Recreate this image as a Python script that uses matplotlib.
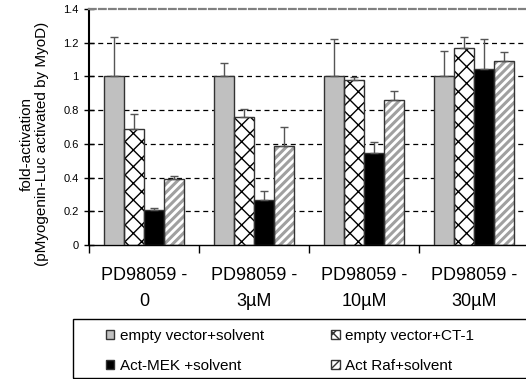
import numpy as np
import matplotlib.pyplot as plt
from matplotlib.patches import Patch, Rectangle

plt.rcParams['font.family'] = ['Liberation Sans', 'DejaVu Sans']

# data
categories = ['PD98059 -\n0', 'PD98059 -\n3µM', 'PD98059 -\n10µM', 'PD98059 -\n30µM']
series = ['empty vector+solvent', 'empty vector+CT-1', 'Act-MEK +solvent', 'Act Raf+solvent']
empty_solvent = [1.0, 1.0, 1.0, 1.0]
empty_ct1 = [0.69, 0.76, 0.977, 1.167]
mek_solvent = [0.205, 0.267, 0.544, 1.044]
raf_solvent = [0.39, 0.587, 0.86, 1.09]
err_empty_solvent = [0.235, 0.08, 0.224, 0.152]
err_empty_ct1 = [0.085, 0.045, 0.019, 0.068]
err_mek_solvent = [0.015, 0.053, 0.069, 0.18]
err_raf_solvent = [0.02, 0.113, 0.052, 0.053]

values = [empty_solvent, empty_ct1, mek_solvent, raf_solvent]
errors = [err_empty_solvent, err_empty_ct1, err_mek_solvent, err_raf_solvent]

# style per series: face, hatch, hatch colour, hatch width
styles = [
    ('#c0c0c0', None, None, 1.0),
    ('white', 'xx', 'black', 1.0),
    ('black', None, None, 1.0),
    ('white', '////', '#a0a0a0', 2.2),
]

fig = plt.figure(figsize=(5.26, 3.79), dpi=100)
ax = fig.add_axes([89/526, 134/379, 440/526, 236/379])

x = np.arange(len(categories))
width = 0.182
offsets = (np.arange(4) - 1.5) * width

for i in range(4):
    face, hatch, hcol, hlw = styles[i]
    pos = x + offsets[i]
    if hatch:
        with plt.rc_context({'hatch.linewidth': hlw}):
            bars = ax.bar(pos, values[i], width, color=face, hatch=hatch, edgecolor=hcol,
                          linewidth=0, zorder=2)
        for b in bars:
            if hasattr(b, 'set_hatch_linewidth'):
                b.set_hatch_linewidth(hlw)
        ax.bar(pos, values[i], width, fill=False, edgecolor='#333333',
               linewidth=1.0, zorder=3)
    else:
        ax.bar(pos, values[i], width, color=face, edgecolor='#333333',
               linewidth=1.0, zorder=3)
    ax.errorbar(pos, values[i], yerr=[np.zeros(4), errors[i]], fmt='none',
                ecolor='#555555', elinewidth=1.0, capsize=3, capthick=1.0, zorder=4)

ax.set_xlim(-0.5, 3.5)
ax.set_ylim(0, 1.4)
ax.set_yticks(np.arange(0, 1.41, 0.2))
ax.set_yticklabels(['0', '0.2', '0.4', '0.6', '0.8', '1', '1.2', '1.4'], fontsize=8)
ax.tick_params(axis='y', direction='inout', length=7, width=1, pad=4)

ax.set_xticks(np.arange(-0.5, 3.6, 1.0))
ax.set_xticklabels([])
ax.set_xticks(x, minor=True)
ax.set_xticklabels(categories, minor=True, fontsize=13, linespacing=1.65)
ax.tick_params(axis='x', which='major', length=6, width=1)
ax.tick_params(axis='x', which='minor', length=0, pad=16)

for yv in np.arange(0.2, 1.21, 0.2):
    ax.axhline(yv, color='black', linestyle=(0, (4, 3)), linewidth=0.9, zorder=1)

ax.spines['right'].set_visible(False)
ax.spines['top'].set_color('#808080')
ax.spines['top'].set_linestyle((0, (3, 1.5)))
ax.spines['top'].set_linewidth(1.6)
ax.spines['left'].set_linewidth(1.5)
ax.spines['bottom'].set_linewidth(1.0)

ax.set_ylabel('fold-activation\n(pMyogenin-Luc activated by MyoD)', fontsize=11,
              linespacing=1.15)
ax.yaxis.set_label_coords(-0.09, 0.43)

# legend frame
fig.add_artist(Rectangle((73/526, 1/379), 470/526, 59/379, transform=fig.transFigure,
                         fill=False, edgecolor='black', linewidth=1.0))

handles = []
for i in [0, 2, 1, 3]:
    face, hatch, hcol, hlw = styles[i]
    handles.append(Patch(facecolor=face, edgecolor='#333333', hatch=hatch,
                         label=series[i]))
fig.legend(handles=handles, ncol=2, loc='upper left',
           bbox_to_anchor=(106/526, (379 - 329)/379),
           fontsize=11, frameon=False,
           handlelength=0.55, handleheight=0.55, handletextpad=0.35,
           borderaxespad=0, borderpad=0, labelspacing=1.05, columnspacing=4.4)

fig.savefig('out.png', dpi=100)
